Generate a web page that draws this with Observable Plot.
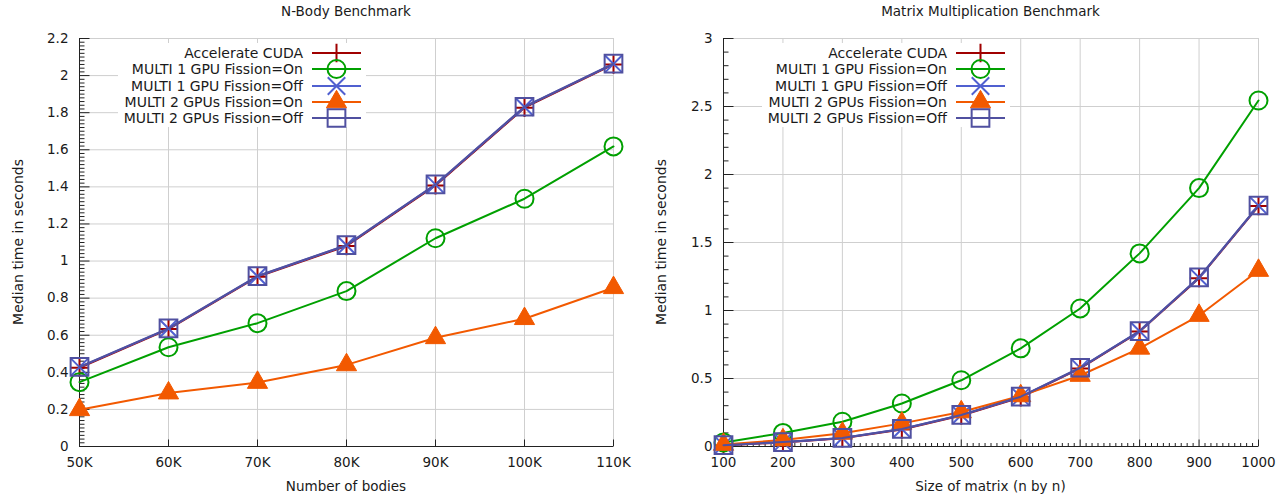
<!DOCTYPE html>
<html>
<head>
<meta charset="utf-8">
<script src="https://cdn.jsdelivr.net/npm/d3@7"></script>
<script src="https://cdn.jsdelivr.net/npm/@observablehq/plot@0.6"></script>
<style>
  html, body { margin: 0; padding: 0; background: #fff; }
  body { font-family: "DejaVu Sans", sans-serif; color: #1a1a1a; }
  #wrap { position: relative; width: 1286px; height: 497px; overflow: hidden; }
  .panel { position: absolute; top: 0; width: 643px; height: 497px; }
  .panel svg { position: absolute; left: 0; top: 0; }
  .lbl { position: absolute; white-space: nowrap; line-height: 1; transform: translate(-50%, -50%); }
  .ylbl { position: absolute; white-space: nowrap; line-height: 1; transform: translate(-50%, -50%) rotate(-90deg); }
  .legend { position: absolute; background: #fff; padding: 2px 5px 1px 6px; }
  .legend .row { display: flex; align-items: center; justify-content: flex-end; height: 16.25px; }
  .legend .row span { font-size: 14px; line-height: 1; margin-right: 9px; white-space: nowrap; }
  .legend svg { position: static; overflow: visible; display: block; }
</style>
</head>
<body>
<div id="wrap"></div>
<script>
// ---------- data ----------
const seriesNames = ["Accelerate CUDA", "MULTI 1 GPU Fission=On", "MULTI 1 GPU Fission=Off", "MULTI 2 GPUs Fission=On", "MULTI 2 GPUs Fission=Off"];
const seriesColors = ["#a00000", "#00a000", "#5060d0", "#f25900", "#5050a0"];
const seriesSymbols = ["plus", "circle", "times", "triangle", "square"];

// N-Body benchmark (thousands of bodies)
const nbodyBodies = [50, 60, 70, 80, 90, 100, 110];
const nbodyAccelerateCuda = [0.424, 0.633, 0.915, 1.081, 1.408, 1.827, 2.060];
const nbodyMulti1On       = [0.347, 0.535, 0.665, 0.838, 1.123, 1.336, 1.618];
const nbodyMulti1Off      = [0.428, 0.636, 0.918, 1.085, 1.412, 1.831, 2.063];
const nbodyMulti2On       = [0.198, 0.288, 0.345, 0.440, 0.586, 0.689, 0.856];
const nbodyMulti2Off      = [0.429, 0.637, 0.919, 1.086, 1.413, 1.832, 2.065];
const nbodyXTicks = [50, 60, 70, 80, 90, 100, 110];
const nbodyXTickLabels = ["50K", "60K", "70K", "80K", "90K", "100K", "110K"];
const nbodyYTicks = [0, 0.2, 0.4, 0.6, 0.8, 1, 1.2, 1.4, 1.6, 1.8, 2, 2.2];
const nbodyYTickLabels = ["0", "0.2", "0.4", "0.6", "0.8", "1", "1.2", "1.4", "1.6", "1.8", "2", "2.2"];

// Matrix multiplication benchmark (n by n)
const matrixSizes = [100, 200, 300, 400, 500, 600, 700, 800, 900, 1000];
const matrixAccelerateCuda = [0.008, 0.030, 0.060, 0.125, 0.228, 0.362, 0.574, 0.845, 1.238, 1.768];
const matrixMulti1On       = [0.030, 0.100, 0.182, 0.316, 0.487, 0.722, 1.015, 1.420, 1.900, 2.544];
const matrixMulti1Off      = [0.010, 0.032, 0.062, 0.128, 0.231, 0.365, 0.578, 0.848, 1.242, 1.771];
const matrixMulti2On       = [0.015, 0.048, 0.097, 0.170, 0.254, 0.372, 0.522, 0.722, 0.963, 1.294];
const matrixMulti2Off      = [0.010, 0.033, 0.063, 0.129, 0.232, 0.366, 0.579, 0.849, 1.243, 1.772];
const matrixXTicks = [100, 200, 300, 400, 500, 600, 700, 800, 900, 1000];
const matrixXTickLabels = ["100", "200", "300", "400", "500", "600", "700", "800", "900", "1000"];
const matrixYTicks = [0, 0.5, 1, 1.5, 2, 2.5, 3];
const matrixYTickLabels = ["0", "0.5", "1", "1.5", "2", "2.5", "3"];

// ---------- styling ----------
const gridColor = "#cfcfcf";
const axisColor = "#222";
const textColor = "#1a1a1a";
const markerR = {plus: 6, circle: 9, times: 8, triangle: 7.5, square: 10};

function hTick(L) { return {draw(ctx) { ctx.moveTo(0, 0); ctx.lineTo(L, 0); }}; }
function vTick(L) { return {draw(ctx) { ctx.moveTo(0, 0); ctx.lineTo(0, -L); }}; }

const d3Sym = {plus: d3.symbolPlus, circle: d3.symbolCircle, times: d3.symbolTimes, triangle: d3.symbolTriangle, square: d3.symbolSquare};

function symbolStyle(sym, color) {
  if (sym === "triangle") return {fill: color, stroke: color, strokeWidth: 1};
  return {fill: "none", stroke: color, strokeWidth: 2};
}

function makePanel(cfg) {
  const panel = document.createElement("div");
  panel.className = "panel";
  panel.style.left = cfg.left + "px";
  document.getElementById("wrap").appendChild(panel);

  const width = 643, height = 497, mt = 38, mb = 51;
  const marks = [];
  marks.push(Plot.gridX(cfg.xTicks, {stroke: gridColor, strokeOpacity: 1, strokeWidth: 1}));
  marks.push(Plot.gridY(cfg.yTicks, {stroke: gridColor, strokeOpacity: 1, strokeWidth: 1}));
  marks.push(Plot.ruleX([cfg.xDomain[0]], {stroke: axisColor, strokeWidth: 1}));
  marks.push(Plot.ruleY([cfg.yDomain[0]], {stroke: axisColor, strokeWidth: 1}));
  marks.push(Plot.dot(cfg.yTicks, {y: d => d, frameAnchor: "left", symbol: hTick(10), r: 1, stroke: axisColor, fill: "none", strokeWidth: 1}));
  marks.push(Plot.dot(cfg.yMinor, {y: d => d, frameAnchor: "left", symbol: hTick(5), r: 1, stroke: axisColor, fill: "none", strokeWidth: 1}));
  marks.push(Plot.dot(cfg.xTicks, {x: d => d, frameAnchor: "bottom", symbol: vTick(7), r: 1, stroke: axisColor, fill: "none", strokeWidth: 1}));
  if (cfg.xMinor.length) marks.push(Plot.dot(cfg.xMinor, {x: d => d, frameAnchor: "bottom", symbol: vTick(3.5), r: 1, stroke: axisColor, fill: "none", strokeWidth: 1}));
  marks.push(Plot.axisX(cfg.xTicks, {tickSize: 0, tickPadding: 11, label: null, fill: textColor,
    tickFormat: d => cfg.xLabels[cfg.xTicks.indexOf(d)]}));
  marks.push(Plot.axisY(cfg.yTicks, {tickSize: 0, tickPadding: 11, label: null, fill: textColor,
    tickFormat: d => cfg.yLabels[cfg.yTicks.indexOf(d)]}));

  cfg.series.forEach((vals, k) => {
    const data = cfg.xs.map((x, j) => ({x, y: vals[j]}));
    const sym = seriesSymbols[k];
    marks.push(Plot.line(data, {x: "x", y: "y", stroke: seriesColors[k], strokeWidth: 2}));
    marks.push(Plot.dot(data, {x: "x", y: "y", symbol: sym, r: markerR[sym], ...symbolStyle(sym, seriesColors[k])}));
  });

  const svg = Plot.plot({
    width, height,
    marginTop: mt, marginBottom: mb, marginLeft: cfg.marginLeft, marginRight: cfg.marginRight,
    x: {domain: cfg.xDomain},
    y: {domain: cfg.yDomain},
    style: {fontFamily: "'DejaVu Sans', sans-serif", fontSize: "13.5px", color: textColor, background: "transparent", overflow: "visible"},
    marks
  });
  panel.appendChild(svg);

  const plotCx = cfg.marginLeft + (width - cfg.marginLeft - cfg.marginRight) / 2;

  const title = document.createElement("div");
  title.className = "lbl";
  title.textContent = cfg.title;
  title.style.cssText += `left:${plotCx}px;top:12px;font-size:13.5px;`;
  panel.appendChild(title);

  const xl = document.createElement("div");
  xl.className = "lbl";
  xl.textContent = cfg.xTitle;
  xl.style.cssText += `left:${plotCx}px;top:487px;font-size:13.5px;`;
  panel.appendChild(xl);

  const yl = document.createElement("div");
  yl.className = "ylbl";
  yl.textContent = cfg.yTitle;
  yl.style.cssText += `left:18px;top:${(mt + height - mb) / 2}px;font-size:14px;`;
  panel.appendChild(yl);

  // legend (opaque key)
  const lg = document.createElement("div");
  lg.className = "legend";
  lg.style.right = (width - (cfg.marginLeft + 287)) + "px";
  lg.style.top = "43px";
  seriesNames.forEach((name, k) => {
    const row = document.createElement("div");
    row.className = "row";
    const sp = document.createElement("span");
    sp.textContent = name;
    row.appendChild(sp);
    const sym = seriesSymbols[k];
    const st = symbolStyle(sym, seriesColors[k]);
    const s = d3.create("svg").attr("width", 49).attr("height", 16);
    s.append("line").attr("x1", 0).attr("x2", 49).attr("y1", 8).attr("y2", 8)
      .attr("stroke", seriesColors[k]).attr("stroke-width", 2);
    const r = markerR[sym];
    s.append("path").attr("transform", "translate(24.5,8)")
      .attr("d", d3.symbol(d3Sym[sym], Math.PI * r * r)())
      .attr("fill", st.fill).attr("stroke", st.stroke).attr("stroke-width", st.strokeWidth);
    row.appendChild(s.node());
    lg.appendChild(row);
  });
  panel.appendChild(lg);
}

makePanel({
  left: 0, marginLeft: 79, marginRight: 30,
  xs: nbodyBodies,
  series: [nbodyAccelerateCuda, nbodyMulti1On, nbodyMulti1Off, nbodyMulti2On, nbodyMulti2Off],
  xDomain: [50, 110], yDomain: [0, 2.2],
  xTicks: nbodyXTicks, xLabels: nbodyXTickLabels,
  yTicks: nbodyYTicks, yLabels: nbodyYTickLabels,
  yMinor: d3.range(0, 111).filter(i => i % 10 !== 0).map(i => i * 0.02),
  xMinor: [],
  title: "N-Body Benchmark", xTitle: "Number of bodies", yTitle: "Median time in seconds"
});

makePanel({
  left: 643, marginLeft: 80, marginRight: 28,
  xs: matrixSizes,
  series: [matrixAccelerateCuda, matrixMulti1On, matrixMulti1Off, matrixMulti2On, matrixMulti2Off],
  xDomain: [100, 1000], yDomain: [0, 3],
  xTicks: matrixXTicks, xLabels: matrixXTickLabels,
  yTicks: matrixYTicks, yLabels: matrixYTickLabels,
  yMinor: d3.range(0, 31).filter(i => i % 5 !== 0).map(i => i * 0.1),
  xMinor: d3.range(100, 1001, 10).filter(v => v % 100 !== 0),
  title: "Matrix Multiplication Benchmark", xTitle: "Size of matrix (n by n)", yTitle: "Median time in seconds"
});
</script>
</body>
</html>
